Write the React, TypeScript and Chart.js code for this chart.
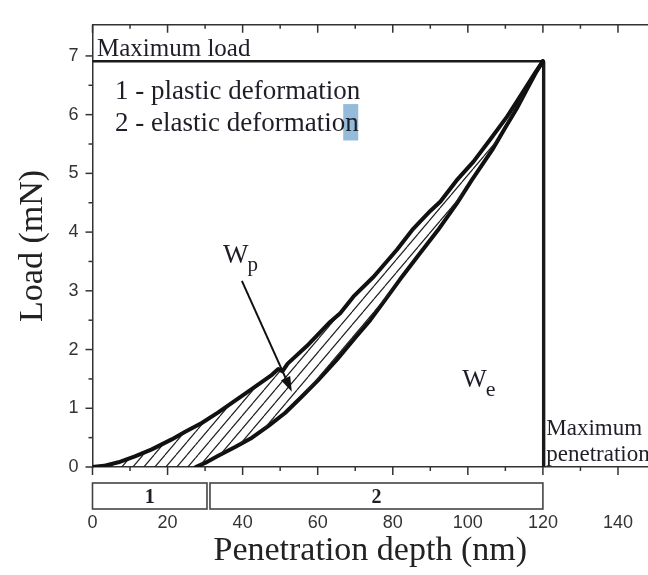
import React, { useEffect, useRef } from 'react';
import { Chart, registerables } from 'chart.js';

Chart.register(...registerables);

// ---- data ----
const loadDepth = [0, 3, 6.9, 11.3, 15.8, 21.1, 24.7, 29.1, 33.5, 38, 42.5, 47.8, 49.5, 50.6, 52, 57.1, 63.3, 66, 69.5, 74.9, 81.1, 85.5, 90, 92.7, 97, 101.5, 106, 110.5, 113, 115.8, 118, 120];
const loadForce = [0, 0.02, 0.08, 0.18, 0.3, 0.47, 0.6, 0.75, 0.93, 1.13, 1.33, 1.57, 1.67, 1.63, 1.76, 2.06, 2.47, 2.62, 2.9, 3.24, 3.7, 4.06, 4.36, 4.52, 4.88, 5.2, 5.58, 5.97, 6.22, 6.5, 6.72, 6.91];
const unloadDepth = [27.5, 30, 33.5, 38, 42.5, 46.9, 51.3, 55.8, 60, 65, 70, 74, 77, 82, 87, 92, 97, 101, 106.5, 110, 113, 115.5, 118, 120];
const unloadForce = [0, 0.07, 0.19, 0.34, 0.5, 0.7, 0.92, 1.2, 1.47, 1.82, 2.2, 2.5, 2.76, 3.2, 3.62, 4.03, 4.48, 4.88, 5.4, 5.78, 6.1, 6.4, 6.7, 6.91];

const maxLoad = 6.91;
const maxPenetration = 120.2;

const xMajorTicks = [0, 20, 40, 60, 80, 100, 120, 140];
const yMajorTicks = [0, 1, 2, 3, 4, 5, 6, 7];
const X_MAX = 148;
const Y_MAX = 7.53;

const phaseNames = ['1', '2'];
const phaseStart = [0, 31.3];
const phaseEnd = [30.5, 120];

const SERIF = '"Liberation Serif", "Times New Roman", serif';
const SANS = '"Liberation Sans", Arial, sans-serif';
const INK = '#1e1e28';

const isMajor = (list: number[], v: number) =>
  Math.abs(v - Math.round(v)) < 1e-6 && list.includes(Math.round(v));

function makeHatch(): CanvasPattern | string {
  const w = 11, h = 13;
  const c = document.createElement('canvas');
  c.width = w; c.height = h;
  const g = c.getContext('2d');
  if (!g) return 'rgba(0,0,0,0.2)';
  g.strokeStyle = '#222';
  g.lineWidth = 1.2;
  g.beginPath();
  g.moveTo(0, h); g.lineTo(w, 0);
  g.moveTo(-w, h); g.lineTo(0, 0);
  g.moveTo(w, h); g.lineTo(2 * w, 0);
  g.stroke();
  return g.createPattern(c, 'repeat') || 'rgba(0,0,0,0.2)';
}

const decor = {
  id: 'decor',
  afterDraw(chart: any) {
    const { ctx, chartArea: a, scales } = chart;
    const x = scales.x, y = scales.y;
    ctx.save();
    ctx.strokeStyle = '#333';
    ctx.lineWidth = 1.5;
    // top frame line
    ctx.beginPath();
    ctx.moveTo(a.left, a.top);
    ctx.lineTo(a.right, a.top);
    ctx.stroke();
    // x ticks (bottom outward, top inward)
    x.ticks.forEach((t: any) => {
      const px = x.getPixelForValue(t.value);
      const len = isMajor(xMajorTicks, t.value) ? 8 : 4;
      ctx.beginPath();
      ctx.moveTo(px, a.bottom); ctx.lineTo(px, a.bottom + len);
      ctx.moveTo(px, a.top); ctx.lineTo(px, a.top + len);
      ctx.stroke();
    });
    // y ticks (left outward)
    y.ticks.forEach((t: any) => {
      const py = y.getPixelForValue(t.value);
      const len = isMajor(yMajorTicks, t.value) ? 7 : 4;
      ctx.beginPath();
      ctx.moveTo(a.left, py); ctx.lineTo(a.left - len, py);
      ctx.stroke();
    });

    // phase boxes under the axis
    const boxTop = a.bottom + 16, boxH = 26;
    phaseNames.forEach((name, i) => {
      const x0 = x.getPixelForValue(phaseStart[i]);
      const x1 = x.getPixelForValue(phaseEnd[i]);
      ctx.strokeStyle = '#444';
      ctx.lineWidth = 1.6;
      ctx.strokeRect(x0, boxTop, x1 - x0, boxH);
      ctx.fillStyle = INK;
      ctx.font = 'bold 20px ' + SERIF;
      ctx.textAlign = 'center';
      ctx.textBaseline = 'alphabetic';
      ctx.fillText(name, (x0 + x1) / 2, boxTop + 20);
    });

    ctx.restore();

    // in-plot annotations
    ctx.save();
    ctx.fillStyle = INK;
    ctx.textAlign = 'left';
    ctx.textBaseline = 'alphabetic';
    const X = (v: number) => x.getPixelForValue(v);
    const Y = (v: number) => y.getPixelForValue(v);

    ctx.font = '25px ' + SERIF;
    ctx.fillText('Maximum load', X(1.2), Y(7.0));

    ctx.font = '27px ' + SERIF;
    ctx.fillText('1 - plastic deformation', X(6.0), Y(6.27));
    // selection highlight behind final letter
    ctx.fillStyle = 'rgba(130,175,212,0.85)';
    ctx.fillRect(X(66.8), Y(6.18), X(70.8) - X(66.8), Y(5.56) - Y(6.18));
    ctx.fillStyle = INK;
    ctx.fillText('2 - elastic deformation', X(6.0), Y(5.73));

    // W_p
    ctx.font = '27px ' + SERIF;
    ctx.fillText('W', X(34.8), Y(3.48));
    let ww = ctx.measureText('W').width;
    ctx.font = '21px ' + SERIF;
    ctx.fillText('p', X(34.8) + ww - 1, Y(3.48) + 8);

    // W_e
    ctx.font = '26px ' + SERIF;
    ctx.fillText('W', X(98.5), Y(1.36));
    ww = ctx.measureText('W').width;
    ctx.font = '22px ' + SERIF;
    ctx.fillText('e', X(98.5) + ww - 1, Y(1.36) + 9);

    // Maximum penetration
    ctx.font = '23px ' + SERIF;
    ctx.fillText('Maximum', X(120.9), Y(0.55));
    ctx.fillText('penetration', X(120.9), Y(0.1));

    // arrow to W_p region
    const sx = X(39.8), sy = Y(3.17), tx = X(53.1), ty = Y(1.28);
    const ang = Math.atan2(ty - sy, tx - sx);
    const headL = 15, headW = 5;
    const bx = tx - headL * Math.cos(ang), by = ty - headL * Math.sin(ang);
    ctx.strokeStyle = '#111';
    ctx.lineWidth = 2;
    ctx.beginPath();
    ctx.moveTo(sx, sy); ctx.lineTo(bx, by);
    ctx.stroke();
    ctx.fillStyle = '#111';
    ctx.beginPath();
    ctx.moveTo(tx, ty);
    ctx.lineTo(bx + headW * Math.sin(ang), by - headW * Math.cos(ang));
    ctx.lineTo(bx - headW * Math.sin(ang), by + headW * Math.cos(ang));
    ctx.closePath();
    ctx.fill();
    ctx.restore();
  },
};

export default function App() {
  const ref = useRef<HTMLCanvasElement | null>(null);

  useEffect(() => {
    document.body.style.margin = '0';
    const canvas = ref.current;
    if (!canvas) return;

    const loadPts = loadDepth.map((d, i) => ({ x: d, y: loadForce[i] }));
    const unloadPts = [{ x: 0, y: 0 }].concat(unloadDepth.map((d, i) => ({ x: d, y: unloadForce[i] })));

    const chart = new Chart(canvas, {
      type: 'line',
      data: {
        datasets: [
          {
            label: 'loading',
            data: loadPts,
            borderColor: '#111',
            borderWidth: 4,
            pointRadius: 0,
            tension: 0,
            borderJoinStyle: 'round',
            borderCapStyle: 'round',
            fill: '+1',
            backgroundColor: makeHatch(),
          },
          {
            label: 'unloading',
            data: unloadPts,
            borderColor: '#111',
            borderWidth: 4,
            pointRadius: 0,
            tension: 0,
            borderJoinStyle: 'round',
            borderCapStyle: 'round',
            fill: false,
            segment: {
              borderColor: (c: any) => (c.p0DataIndex === 0 ? 'rgba(0,0,0,0)' : '#111'),
            },
          },
          {
            label: 'max load',
            data: [{ x: 0, y: maxLoad }, { x: maxPenetration, y: maxLoad }],
            borderColor: '#1a1a1a',
            borderWidth: 2.6,
            pointRadius: 0,
            fill: false,
          },
          {
            label: 'max penetration',
            data: [{ x: maxPenetration, y: maxLoad }, { x: maxPenetration, y: 0 }],
            borderColor: '#1a1a1a',
            borderWidth: 3.4,
            pointRadius: 0,
            fill: false,
          },
        ],
      },
      options: {
        responsive: false,
        animation: false,
        parsing: false,
        normalized: true,
        layout: { padding: { top: 15, right: 0, left: 0, bottom: 0 } },
        plugins: {
          legend: { display: false },
          tooltip: { enabled: false },
        },
        scales: {
          x: {
            type: 'linear',
            min: 0,
            max: X_MAX,
            afterFit: (s: any) => { s.height = 108; s.paddingRight = 0; s.paddingLeft = 0; },
            afterBuildTicks: (s: any) => {
              s.ticks = s.ticks.filter((t: any) => t.value <= 140 + 1e-9 && Math.abs(t.value / 10 - Math.round(t.value / 10)) < 1e-6);
            },
            ticks: {
              stepSize: 10,
              includeBounds: false,
              autoSkip: false,
              maxRotation: 0,
              padding: 45,
              color: '#333',
              font: { family: SANS, size: 18 },
              callback: (v: any) => (isMajor(xMajorTicks, Number(v)) ? String(Math.round(Number(v))) : ''),
            },
            grid: { display: true, drawOnChartArea: false, drawTicks: false, tickLength: 0 },
            border: { display: true, color: '#333', width: 1.5 },
            title: {
              display: true,
              text: 'Penetration depth (nm)',
              color: '#222',
              font: { family: SERIF, size: 34, weight: 'normal' },
              padding: { top: 0, bottom: 4 },
            },
          },
          y: {
            type: 'linear',
            min: 0,
            max: Y_MAX,
            afterFit: (s: any) => { s.width = 92.5; },
            afterBuildTicks: (s: any) => {
              s.ticks = s.ticks.filter((t: any) => t.value <= 7 + 1e-9 && Math.abs(t.value * 2 - Math.round(t.value * 2)) < 1e-6);
            },
            ticks: {
              stepSize: 0.5,
              includeBounds: false,
              autoSkip: false,
              padding: 14,
              color: '#333',
              font: { family: SANS, size: 18 },
              callback: (v: any) => (isMajor(yMajorTicks, Number(v)) ? String(Math.round(Number(v))) : ''),
            },
            grid: { display: true, drawOnChartArea: false, drawTicks: false, tickLength: 0 },
            border: { display: true, color: '#333', width: 1.5 },
            title: {
              display: true,
              text: 'Load (mN)',
              color: '#222',
              font: { family: SERIF, size: 34, weight: 'normal' },
              padding: { top: 13, bottom: 0 },
            },
          },
        },
      },
      plugins: [decor],
    } as any);

    return () => chart.destroy();
  }, []);

  return (
    <div style={{ width: 648, height: 575, background: '#fff' }}>
      <canvas ref={ref} width={648} height={575} style={{ display: 'block' }} />
    </div>
  );
}
